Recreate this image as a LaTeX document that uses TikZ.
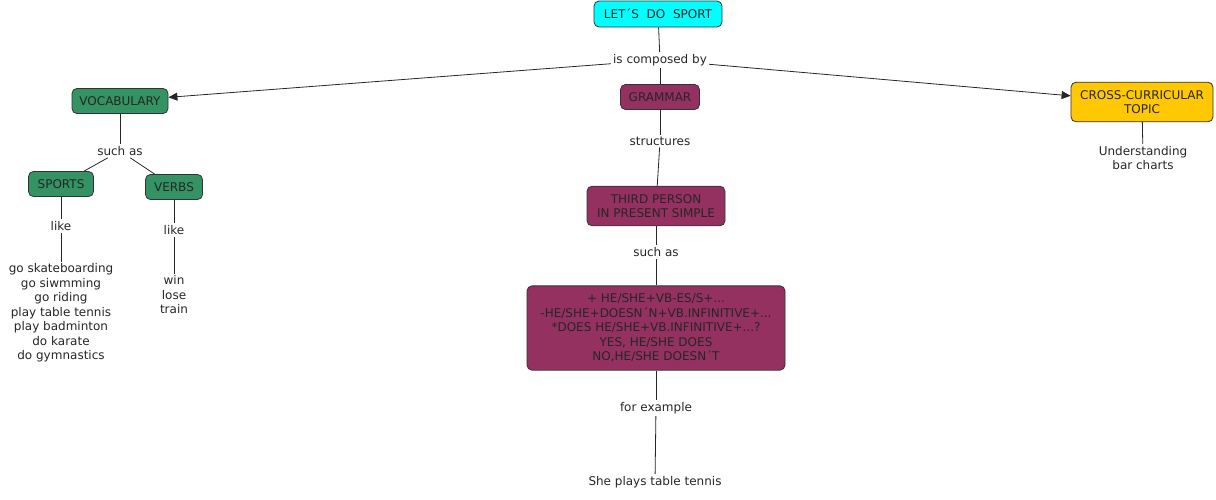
\documentclass[tikz,border=0pt]{standalone}
\usepackage{fontspec}
\setmainfont{DejaVu Sans}
\usetikzlibrary{arrows.meta}
\pgfdeclarelayer{bg}
\pgfsetlayers{bg,main}
\definecolor{cyanbox}{RGB}{0,255,255}
\definecolor{greenbox}{RGB}{51,147,98}
\definecolor{plumbox}{RGB}{148,49,97}
\definecolor{goldbox}{RGB}{255,200,0}
\tikzset{
    every node/.style={shape=rectangle, inner sep=2pt, align=center, text=black!85, font=\fontsize{12}{14.5}\selectfont}
}
\tikzset{concept/.style={rounded corners=5pt, draw=black!80, line width=.8pt, inner xsep=7pt, inner ysep=8pt, minimum height=25pt}}
\tikzset{linkword/.style={draw=none}}
\tikzset{linkarrow/.style={-{Triangle[length=9pt, width=8pt]}}}
\tikzset{every edge/.append style={draw=black!85, line width=.8pt}}

\begin{document}
\begin{tikzpicture}[x=1pt, y=-1pt]
        \useasboundingbox (0,0) rectangle (1216,499);
        \node (v0) [concept, fill=cyanbox, minimum width=128pt, minimum height=26pt] at (658,14) {LET´S\ \ DO\ \ SPORT};
        \node (v1) [linkword] at (660,60) {is composed by};
        \node (v2) [concept, fill=greenbox, minimum width=96pt] at (120,101) {VOCABULARY};
        \node (v3) [concept, fill=plumbox, minimum width=79pt] at (660,97) {GRAMMAR};
        \node (v4) [concept, fill=goldbox, minimum width=142pt, minimum height=38pt] at (1142,102) {CROSS-CURRICULAR\\TOPIC};
        \node (v5) [linkword] at (120,151) {such as};
        \node (v6) [concept, fill=greenbox, minimum width=65pt] at (61,184) {SPORTS};
        \node (v7) [concept, fill=greenbox, minimum width=57pt] at (174,187) {VERBS};
        \node (v8) [linkword] at (61,226) {like};
        \node (v9) [linkword] at (61,313) {go skateboarding\\go siwmming\\go riding\\play table tennis\\play badminton\\do karate\\do gymnastics};
        \node (v10) [linkword] at (174,230) {like};
        \node (v11) [linkword] at (174,295) {win\\lose\\train};
        \node (v12) [linkword] at (660,141) {structures};
        \node (v13) [concept, fill=plumbox, minimum width=138pt, minimum height=39pt] at (656,206) {THIRD PERSON\\IN PRESENT SIMPLE};
        \node (v14) [linkword] at (656,252) {such as};
        \node (v15) [concept, fill=plumbox, minimum width=258pt, minimum height=84pt] at (656,328) {+ HE/SHE+VB-ES/S+...\\-HE/SHE+DOESN´N+VB.INFINITIVE+...\\*DOES HE/SHE+VB.INFINITIVE+...?\\YES, HE/SHE DOES\\NO,HE/SHE DOESN´T};
        \node (v16) [linkword] at (656,408) {for example};
        \node (v17) [linkword] at (655,482) {She plays table tennis};
        \node (v18) [linkword] at (1143,158) {Understanding\\bar charts};
        \begin{pgfonlayer}{bg}
                \draw (v0) edge (v1);
                \draw (v1) edge [linkarrow] (v2);
                \draw (v1) edge [linkarrow] (v4);
                \draw (v1) edge (v3);
                \draw (v2) edge (v5);
                \draw (v5) edge (v6);
                \draw (v5) edge (v7);
                \draw (v6) edge (v8);
                \draw (v8) edge (v9);
                \draw (v7) edge (v10);
                \draw (v10) edge (v11);
                \draw (v3) edge (v12);
                \draw (v12) edge (v13);
                \draw (v13) edge (v14);
                \draw (v14) edge (v15);
                \draw (v15) edge (v16);
                \draw (v16) edge (v17);
                \draw (v4) edge (v18);
        \end{pgfonlayer}
\end{tikzpicture}
\end{document}
